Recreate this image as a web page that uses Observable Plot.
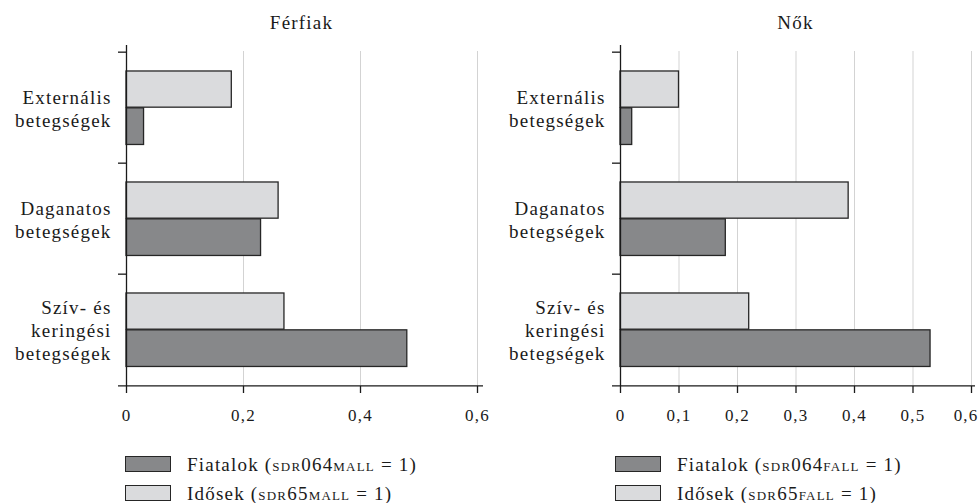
<!DOCTYPE html>
<html>
<head>
<meta charset="utf-8">
<script src="https://cdn.jsdelivr.net/npm/d3@7"></script>
<script src="https://cdn.jsdelivr.net/npm/@observablehq/plot@0.6"></script>
<style>
  body { margin: 0; background: #fff; font-family: "Liberation Serif", serif; color: #1a1a1a; }
  #wrap { position: relative; width: 979px; height: 503px; overflow: hidden; background: #fff; }
  .panel { position: absolute; top: 0; height: 503px; }
  .title { position: absolute; top: 13.4px; font-size: 19px; line-height: 19px; letter-spacing: 1.2px; text-align: center; white-space: nowrap; }
  .chart { position: absolute; top: 40px; left: 0; }
  .legend { position: absolute; top: 449.5px; left: 125px; font-size: 19px; letter-spacing: 1.2px; }
  .row { display: flex; align-items: center; height: 29px; line-height: 29px; white-space: nowrap; }
  .sw { box-sizing: border-box; width: 46px; height: 16px; border: 1.3px solid #262626; margin-right: 16px; }
  .sc { font-variant: small-caps; }
</style>
</head>
<body>
<div id="wrap"></div>
<script>
// ---- data ----
const categories = ["Externális betegségek", "Daganatos betegségek", "Szív- és keringési betegségek"];
const categoryLabels = ["Externális\nbetegségek", "Daganatos\nbetegségek", "Szív- és\nkeringési\nbetegségek"];
const seriesNames = ["Fiatalok", "Idősek"];
const panelTitles = ["Férfiak", "Nők"];
const ferfiakFiatalok = [0.03, 0.23, 0.48];
const ferfiakIdosek = [0.18, 0.26, 0.27];
const nokFiatalok = [0.02, 0.18, 0.53];
const nokIdosek = [0.10, 0.39, 0.22];
const ferfiakTicks = [0, 0.2, 0.4, 0.6];
const nokTicks = [0, 0.1, 0.2, 0.3, 0.4, 0.5, 0.6];
const ferfiakCodes = ["sdr064mall", "sdr65mall"];
const nokCodes = ["sdr064fall", "sdr65fall"];

const colorYoung = "#87888a";
const colorOld = "#dadbdd";
const ink = "#1a1a1a";
const serif = '"Liberation Serif", serif';
const fmt = d => d === 0 ? "0" : d3.format(".1f")(d).replace(".", ",");

function makePanel(cfg) {
  const {left, width, marginLeft, marginRight, extendRight, endLast, title, fiatalok, idosek, ticks, codes} = cfg;
  const height = 390, marginTop = 11, marginBottom = 44;
  const bw = (height - marginTop - marginBottom) / categories.length;
  const plotW = width - marginLeft - marginRight;
  const old = categories.map((c, i) => ({cat: c, value: idosek[i]}));
  const young = categories.map((c, i) => ({cat: c, value: fiatalok[i]}));
  const lastTick = ticks[ticks.length - 1];
  const axisText = {label: null, fontFamily: serif, fontSize: 17, fill: ink};

  const marks = [
    Plot.ruleX(ticks.filter(t => t > 0), {stroke: "#d3d3d3", strokeWidth: 1}),
    Plot.barX(old, {x: "value", y: "cat", fill: colorOld, stroke: "#262626", strokeWidth: 1.3, insetTop: bw * 0.17, insetBottom: bw * 0.5}),
    Plot.barX(young, {x: "value", y: "cat", fill: colorYoung, stroke: "#262626", strokeWidth: 1.3, insetTop: bw * 0.5, insetBottom: bw * 0.166}),
    Plot.ruleX([0], {stroke: ink, strokeWidth: 1.3, insetTop: -6}),
    Plot.ruleY(categories, {y: d => d, dy: -bw / 2, insetLeft: -8, insetRight: plotW, stroke: ink, strokeWidth: 1.3}),
    Plot.ruleY([categories[categories.length - 1]], {y: d => d, dy: bw / 2, insetLeft: -8, insetRight: -extendRight, stroke: ink, strokeWidth: 1.3}),
    Plot.axisX({...axisText, ticks, tickSize: 7, tickPadding: 15, stroke: ink, strokeWidth: 1.3,
      tickFormat: d => (endLast && d === lastTick) ? "" : fmt(d)}),
    Plot.axisY({label: null, tickSize: 0, tickPadding: 15, tickFormat: c => categoryLabels[categories.indexOf(c)], fontFamily: serif, fontSize: 19, lineHeight: 1.21, fill: ink})
  ];
  if (endLast) {
    marks.push(Plot.axisX({...axisText, ticks: [lastTick], tickSize: 0, tickPadding: 22, tickFormat: fmt, textAnchor: "end", dx: 7}));
  }

  const chart = Plot.plot({
    width, height, marginLeft, marginRight, marginTop, marginBottom,
    style: {fontFamily: serif, fontSize: "19px", letterSpacing: "1.2px", color: ink, background: "#fff", overflow: "visible"},
    x: {domain: [0, 0.6], axis: null, label: null},
    y: {type: "band", domain: categories, padding: 0, axis: null, label: null},
    marks
  });

  const panel = document.createElement("div");
  panel.className = "panel";
  panel.style.left = left + "px";
  panel.style.width = width + "px";

  const t = document.createElement("div");
  t.className = "title";
  t.style.left = marginLeft + "px";
  t.style.width = plotW + "px";
  t.textContent = title;
  panel.appendChild(t);

  const c = document.createElement("div");
  c.className = "chart";
  c.appendChild(chart);
  panel.appendChild(c);

  const lg = document.createElement("div");
  lg.className = "legend";
  lg.innerHTML =
    `<div class="row"><div class="sw" style="background:${colorYoung}"></div><span>${seriesNames[0]} (<span class="sc">${codes[0]}</span> = 1)</span></div>` +
    `<div class="row"><div class="sw" style="background:${colorOld}"></div><span>${seriesNames[1]} (<span class="sc">${codes[1]}</span> = 1)</span></div>`;
  panel.appendChild(lg);
  return panel;
}

const wrap = document.getElementById("wrap");
wrap.appendChild(makePanel({left: 0, width: 490, marginLeft: 126, marginRight: 13, extendRight: 6, endLast: false, title: panelTitles[0], fiatalok: ferfiakFiatalok, idosek: ferfiakIdosek, ticks: ferfiakTicks, codes: ferfiakCodes}));
wrap.appendChild(makePanel({left: 490, width: 489, marginLeft: 130, marginRight: 8, extendRight: 4, endLast: true, title: panelTitles[1], fiatalok: nokFiatalok, idosek: nokIdosek, ticks: nokTicks, codes: nokCodes}));
</script>
</body>
</html>
